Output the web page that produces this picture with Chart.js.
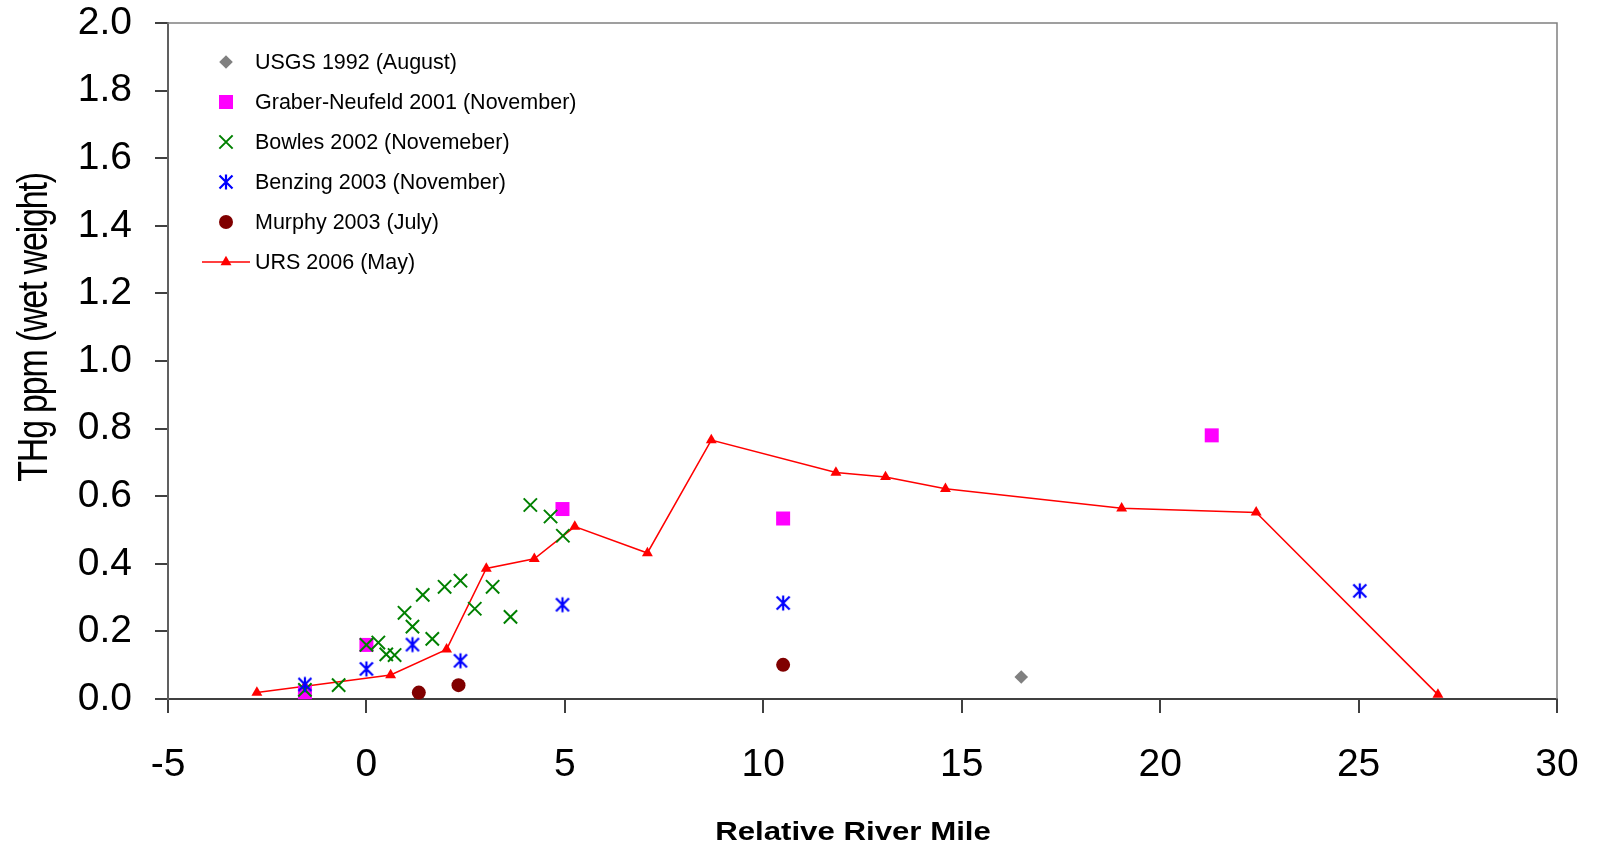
<!DOCTYPE html>
<html>
<head>
<meta charset="utf-8">
<title>THg vs Relative River Mile</title>
<script src="https://cdn.jsdelivr.net/npm/chart.js@4/dist/chart.umd.min.js"></script>
<style>
  html, body { margin: 0; padding: 0; background: #fff; }
  #wrap { width: 1598px; height: 848px; }
</style>
</head>
<body>
<div id="wrap"><canvas id="myChart" width="1598" height="848"></canvas></div>
<script>
// values
const usgsX = [16.5];
const usgsY = [0.065];

const graberX = [-1.55, 0, 4.94, 10.5, 21.3];
const graberY = [0.02, 0.16, 0.562, 0.534, 0.78];

const bowlesX = [-1.55, -0.7, 0, 0.3, 0.5, 0.71, 0.96, 1.16, 1.42, 1.66, 1.97, 2.37, 2.73, 3.18, 3.63, 4.13, 4.64, 4.95];
const bowlesY = [0.027, 0.041, 0.16, 0.167, 0.132, 0.13, 0.255, 0.214, 0.308, 0.178, 0.332, 0.35, 0.267, 0.332, 0.243, 0.574, 0.54, 0.483];

const benzingX = [-1.55, 0, 1.16, 2.37, 4.94, 10.5, 25.03];
const benzingY = [0.043, 0.089, 0.161, 0.113, 0.279, 0.284, 0.32];

const murphyX = [1.32, 2.32, 10.5];
const murphyY = [0.019, 0.041, 0.101];

const ursX = [-2.76, -1.55, 0.61, 2.02, 3.02, 4.23, 5.25, 7.08, 8.69, 11.83, 13.08, 14.59, 19.03, 22.42, 27.0];
const ursY = [0.019, 0.038, 0.071, 0.147, 0.386, 0.415, 0.51, 0.432, 0.766, 0.67, 0.657, 0.622, 0.564, 0.552, 0.013];

const xTickValues = [-5, 0, 5, 10, 15, 20, 25, 30];
const yTickValues = [0, 0.2, 0.4, 0.6, 0.8, 1.0, 1.2, 1.4, 1.6, 1.8, 2.0];

const xTitle = 'Relative River Mile';
const yTitle = 'THg ppm (wet weight)';

function toPoints(xs, ys) {
  return xs.map((x, i) => ({x: x, y: ys[i]}));
}

// excel style asterisk: an X with a vertical bar
function makeAsterisk(color) {
  const c = document.createElement('canvas');
  c.width = 18; c.height = 18;
  const g = c.getContext('2d');
  g.strokeStyle = color;
  g.lineWidth = 2.2;
  g.beginPath();
  g.moveTo(2.5, 2.5); g.lineTo(15.5, 15.5);
  g.moveTo(15.5, 2.5); g.lineTo(2.5, 15.5);
  g.moveTo(9, 1.5); g.lineTo(9, 16.5);
  g.stroke();
  return c;
}

const FONT = '"Liberation Sans", Arial, sans-serif';

// legend drawn inside the plot, top left
const insideLegend = {
  id: 'insideLegend',
  afterDraw(chart) {
    const ctx = chart.ctx;
    ctx.save();
    chart.data.datasets.forEach((ds, i) => {
      const y = 62 + i * 40;
      if (ds.showLine) {
        ctx.strokeStyle = ds.borderColor;
        ctx.lineWidth = ds.borderWidth;
        ctx.beginPath();
        ctx.moveTo(202, y);
        ctx.lineTo(250, y);
        ctx.stroke();
      }
      ctx.fillStyle = ds.pointBackgroundColor;
      ctx.strokeStyle = ds.pointBorderColor;
      ctx.lineWidth = ds.pointBorderWidth;
      Chart.helpers.drawPoint(ctx, {
        pointStyle: ds.pointStyle,
        radius: ds.pointRadius,
        borderWidth: ds.pointBorderWidth,
        rotation: 0
      }, 226, y);
      ctx.fillStyle = '#000';
      ctx.font = '21.5px ' + FONT;
      ctx.textAlign = 'left';
      ctx.textBaseline = 'middle';
      ctx.fillText(ds.label, 255, y + 1);
    });
    ctx.restore();
  }
};

// top/right frame of the plot area plus the axis titles
const frameAndTitles = {
  id: 'frameAndTitles',
  beforeDatasetsDraw(chart) {
    const a = chart.chartArea;
    const ctx = chart.ctx;
    ctx.save();
    ctx.strokeStyle = '#808080';
    ctx.lineWidth = 1.5;
    ctx.beginPath();
    ctx.moveTo(a.left, a.top);
    ctx.lineTo(a.right, a.top);
    ctx.lineTo(a.right, a.bottom);
    ctx.stroke();
    ctx.restore();
  },
  afterDraw(chart) {
    const ctx = chart.ctx;
    ctx.save();
    ctx.fillStyle = '#000';
    ctx.textAlign = 'center';
    ctx.textBaseline = 'alphabetic';
    // x title (stretched wide like the original)
    ctx.save();
    ctx.translate(853, 840);
    ctx.scale(1.2, 1);
    ctx.font = 'bold 26px ' + FONT;
    ctx.fillText(xTitle, 0, 0);
    ctx.restore();
    // y title
    ctx.save();
    ctx.translate(46.5, 327.5);
    ctx.rotate(-Math.PI / 2);
    ctx.scale(1, 1.25);
    ctx.font = '34px ' + FONT;
    ctx.letterSpacing = '-1.2px';
    ctx.fillText(yTitle, 0, 0);
    ctx.restore();
    ctx.restore();
  }
};

const ctx = document.getElementById('myChart').getContext('2d');
const myChart = new Chart(ctx, {
  type: 'scatter',
  data: {
    datasets: [{
        label: 'USGS 1992 (August)',
        data: toPoints(usgsX, usgsY),
        pointStyle: 'rectRot',
        pointRadius: 6.8,
        pointBackgroundColor: '#808080',
        pointBorderColor: '#808080',
        pointBorderWidth: 0,
        order: 0
      }, {
        label: 'Graber-Neufeld 2001 (November)',
        data: toPoints(graberX, graberY),
        pointStyle: 'rect',
        pointRadius: 9.9,
        pointBackgroundColor: '#FF00FF',
        pointBorderColor: '#FF00FF',
        pointBorderWidth: 0,
        order: 4
      }, {
        label: 'Bowles 2002 (Novemeber)',
        data: toPoints(bowlesX, bowlesY),
        pointStyle: 'crossRot',
        pointRadius: 9.4,
        pointBackgroundColor: '#008000',
        pointBorderColor: '#008000',
        pointBorderWidth: 2,
        order: 3
      }, {
        label: 'Benzing 2003 (November)',
        data: toPoints(benzingX, benzingY),
        pointStyle: makeAsterisk('#0000FF'),
        pointRadius: 9,
        pointBackgroundColor: '#0000FF',
        pointBorderColor: '#0000FF',
        pointBorderWidth: 2,
        order: 2
      }, {
        label: 'Murphy 2003 (July)',
        data: toPoints(murphyX, murphyY),
        pointStyle: 'circle',
        pointRadius: 7,
        pointBackgroundColor: '#800000',
        pointBorderColor: '#800000',
        pointBorderWidth: 0,
        order: 1
      }, {
        label: 'URS 2006 (May)',
        data: toPoints(ursX, ursY),
        showLine: true,
        borderColor: '#FF0000',
        borderWidth: 1.5,
        pointStyle: 'triangle',
        pointRadius: 6.3,
        pointBackgroundColor: '#FF0000',
        pointBorderColor: '#FF0000',
        pointBorderWidth: 0,
        order: 5
      }
    ]
  },
  options: {
    responsive: false,
    animation: false,
    clip: 12,
    layout: {
      padding: {left: 0, top: 23, right: 41, bottom: 0}
    },
    plugins: {
      legend: {display: false},
      tooltip: {enabled: false}
    },
    scales: {
      x: {
        type: 'linear',
        min: -5,
        max: 30,
        afterBuildTicks: s => { s.ticks = xTickValues.map(v => ({value: v})); },
        afterFit: s => {
          s.height = 149;
          s.paddingLeft = 0; s.paddingRight = 0;
          s.paddingTop = 0; s.paddingBottom = 0;
        },
        ticks: {
          color: '#000',
          padding: 29,
          font: {family: FONT, size: 39}
        },
        grid: {
          drawOnChartArea: false,
          drawTicks: true,
          tickLength: 14,
          color: '#404040',
          lineWidth: 2
        },
        border: {display: true, color: '#404040', width: 2}
      },
      y: {
        min: 0,
        max: 2,
        afterBuildTicks: s => { s.ticks = yTickValues.map(v => ({value: v})); },
        afterFit: s => {
          s.width = 168;
          s.paddingLeft = 0; s.paddingRight = 0;
          s.paddingTop = 0; s.paddingBottom = 0;
        },
        ticks: {
          color: '#000',
          padding: 23,
          font: {family: FONT, size: 39},
          callback: v => Number(v).toFixed(1)
        },
        grid: {
          drawOnChartArea: false,
          drawTicks: true,
          tickLength: 13,
          color: '#404040',
          lineWidth: 2
        },
        border: {display: true, color: '#606060', width: 2}
      }
    }
  },
  plugins: [frameAndTitles, insideLegend]
});
</script>
</body>
</html>
